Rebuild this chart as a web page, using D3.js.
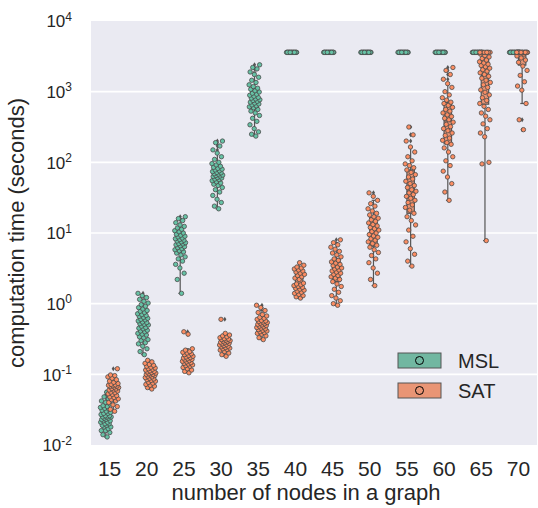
<!DOCTYPE html>
<html>
<head>
<meta charset="utf-8">
<script src="https://cdn.jsdelivr.net/npm/d3@7"></script>
<style>
  body { margin: 0; background: #fff; }
  text { font-family: "Liberation Sans", Arial, sans-serif; fill: #262626; }
</style>
</head>
<body>
<svg id="chart" width="538" height="508"></svg>
<script>
// categories on the x axis (graph size)
var categories = [15, 20, 25, 30, 35, 40, 45, 50, 55, 60, 65, 70];
var yTickExps = [-2, -1, 0, 1, 2, 3, 4];
var seriesNames = ["MSL", "SAT"];

// computation times in seconds, one list per graph size (3600 = timeout)
var mslTimes = [
  [0.013,0.014,0.015,0.016,0.016,0.017,0.018,0.018,0.019,0.019,0.02,0.02,0.021,0.021,0.022,0.022,0.023,0.023,0.024,0.024,0.025,0.025,0.025,0.026,0.026,0.027,0.028,0.028,0.029,0.03,0.031,0.032,0.033,0.034,0.035,0.036,0.038,0.04,0.042,0.045,0.048,0.052,0.056],
  [0.19,0.21,0.23,0.25,0.27,0.28,0.3,0.31,0.33,0.34,0.36,0.37,0.38,0.4,0.41,0.42,0.44,0.45,0.46,0.48,0.5,0.51,0.52,0.54,0.55,0.57,0.59,0.6,0.62,0.64,0.66,0.68,0.7,0.72,0.75,0.78,0.8,0.84,0.88,0.92,0.97,1.02,1.08,1.15,1.22,1.3,1.4],
  [1.4,2.2,2.7,3.2,3.6,4,4.3,4.6,4.9,5.2,5.4,5.6,5.8,6,6.2,6.4,6.6,6.8,7,7.1,7.3,7.5,7.7,7.9,8.1,8.3,8.5,8.8,9,9.3,9.6,10,10.4,10.8,11.3,11.8,12.4,13,14,15,16,17],
  [22,24,27,30,34,38,41,44,47,49,51,53,55,57,58,60,61,63,64,65,66,68,69,71,72,74,76,78,80,82,85,88,92,96,100,110,120,135,150,170,190,200],
  [235,250,270,300,340,380,420,460,500,530,560,590,610,630,650,670,690,710,730,750,770,790,810,830,860,890,920,950,990,1030,1080,1120,1180,1250,1350,1450,1600,1750,1900,2100,2200,2400],
  [3600,3600,3600,3600,3600,3600,3600,3600,3600,3600,3600,3600,3600,3600,3600,3600,3600,3600,3600,3600],
  [3600,3600,3600,3600,3600,3600,3600,3600,3600,3600,3600,3600,3600,3600,3600,3600,3600,3600,3600,3600],
  [3600,3600,3600,3600,3600,3600,3600,3600,3600,3600,3600,3600,3600,3600,3600,3600,3600,3600,3600,3600],
  [3600,3600,3600,3600,3600,3600,3600,3600,3600,3600,3600,3600,3600,3600,3600,3600,3600,3600,3600,3600],
  [3600,3600,3600,3600,3600,3600,3600,3600,3600,3600,3600,3600,3600,3600,3600,3600,3600,3600,3600,3600],
  [3600,3600,3600,3600,3600,3600,3600,3600,3600,3600,3600,3600,3600,3600,3600,3600,3600,3600,3600,3600],
  [3600,3600,3600,3600,3600,3600,3600,3600,3600,3600,3600,3600,3600,3600,3600,3600,3600,3600,3600,3600]
];

var satTimes = [
  [0.03,0.032,0.035,0.037,0.04,0.042,0.044,0.045,0.047,0.048,0.05,0.052,0.053,0.055,0.056,0.058,0.06,0.06,0.062,0.063,0.065,0.066,0.067,0.068,0.069,0.07,0.071,0.072,0.074,0.077,0.08,0.084,0.088,0.092,0.096,0.098,0.12],
  [0.062,0.065,0.068,0.07,0.072,0.075,0.077,0.08,0.082,0.084,0.086,0.088,0.09,0.092,0.094,0.096,0.098,0.1,0.1,0.102,0.104,0.106,0.108,0.11,0.112,0.115,0.118,0.12,0.123,0.126,0.13,0.134,0.138,0.143,0.15,0.158],
  [0.105,0.11,0.115,0.12,0.125,0.13,0.133,0.136,0.14,0.143,0.146,0.15,0.153,0.156,0.16,0.163,0.166,0.17,0.173,0.176,0.18,0.185,0.19,0.195,0.2,0.205,0.21,0.22,0.23,0.37,0.4],
  [0.18,0.19,0.2,0.21,0.22,0.225,0.23,0.235,0.24,0.245,0.25,0.255,0.26,0.265,0.27,0.275,0.28,0.285,0.29,0.295,0.3,0.305,0.31,0.315,0.32,0.33,0.34,0.35,0.36,0.38,0.6],
  [0.31,0.33,0.35,0.37,0.38,0.39,0.4,0.41,0.42,0.43,0.44,0.45,0.46,0.47,0.48,0.49,0.5,0.51,0.52,0.53,0.54,0.55,0.56,0.57,0.58,0.6,0.62,0.64,0.67,0.7,0.75,0.8,0.88,0.95],
  [1.2,1.25,1.3,1.35,1.4,1.45,1.5,1.55,1.6,1.65,1.7,1.75,1.8,1.85,1.9,1.95,2.2,2.3,2.4,2.5,2.6,2.7,2.8,2.9,3.0,3.1,3.2,3.3,3.5,3.8],
  [0.95,1.0,1.1,1.2,1.3,1.45,1.6,1.75,1.9,2.05,2.2,2.3,2.4,2.5,2.6,2.7,2.8,2.9,3.0,3.1,3.2,3.3,3.45,3.6,3.75,3.9,4.1,4.3,4.6,4.9,5.2,5.5,5.9,6.3,6.8,7.3,8.0],
  [1.8,2.2,2.7,3.2,3.8,4.3,4.8,5.3,5.8,6.3,6.7,7.1,7.5,7.9,8.3,8.7,9.1,9.5,10,10.5,11,11.5,12,12.6,13.2,13.9,14.6,15.4,16.2,17,18,19,20.5,22,24,26,29,33,37],
  [3.4,4,5,6,7.5,9,11,13,15,17,19,21,23,25,27,29,31,33,35,37,39,41,44,47,50,54,58,62,67,72,78,84,90,95,105,120,140,165,200,245,316],
  [29,38,50,62,75,90,105,120,140,160,180,190,205,220,240,260,280,300,320,345,370,400,420,445,470,500,530,560,600,640,680,710,760,820,900,1000,1150,1300,1500,1750,2000,2200],
  [7.8,95,100,230,260,300,350,400,450,500,560,620,680,750,820,900,980,1060,1150,1250,1350,1450,1550,1650,1750,1850,1950,2050,2150,2250,2350,2450,2550,2650,2800,2950,3100,3250,3400,3600,3600,3600,3600,3600,3600,3600,3600,3600],
  [290,400,680,1050,1200,1380,1700,2000,2300,2600,2800,3000,3200,3400,3600,3600,3600,3600,3600,3600,3600,3600,3600,3600,3600,3600,3600,3600,3600,3600,3600,3600,3600,3600]
];

var pointColors = ["#66c2a5", "#fc8d62"];
var boxColors = ["#71b7a1", "#e99575"];

var svg = d3.select("#chart");
var plotLeft = 91, plotRight = 537, plotTop = 21, plotBottom = 445;

var x = d3.scaleBand().domain(categories).range([plotLeft, plotRight]);
var y = d3.scaleLog().domain([0.01, 10000]).range([plotBottom, plotTop]);
var bw = x.bandwidth();

// background + grid
svg.append("rect")
  .attr("x", plotLeft).attr("y", plotTop)
  .attr("width", plotRight - plotLeft).attr("height", plotBottom - plotTop)
  .attr("fill", "#eaeaf2");

svg.append("g").selectAll("line")
  .data(yTickExps.slice(1, -1))
  .join("line")
  .attr("x1", plotLeft).attr("x2", plotRight)
  .attr("y1", function(d) { return y(Math.pow(10, d)); })
  .attr("y2", function(d) { return y(Math.pow(10, d)); })
  .attr("stroke", "#fff").attr("stroke-width", 1.6);

// y axis, labels as 10^n
var yAxis = svg.append("g")
  .attr("transform", "translate(" + plotLeft + ",0)")
  .call(d3.axisLeft(y).tickValues(yTickExps.map(function(e) { return Math.pow(10, e); }))
    .tickSize(0).tickPadding(19).tickFormat(""));
yAxis.select(".domain").remove();
yAxis.selectAll(".tick text").each(function(d, i) {
  var t = d3.select(this).attr("dy", "0.34em").style("font-size", "17px");
  t.append("tspan").text("10");
  t.append("tspan").text(yTickExps[i]).attr("dy", "-0.55em").style("font-size", "12px");
});

// x axis
var xAxis = svg.append("g")
  .attr("transform", "translate(0," + plotBottom + ")")
  .call(d3.axisBottom(x).tickSize(0).tickPadding(16));
xAxis.select(".domain").remove();
xAxis.selectAll(".tick text").style("font-size", "21px");

// axis titles
svg.append("text")
  .attr("x", (plotLeft + plotRight) / 2 - 8).attr("y", 500)
  .attr("text-anchor", "middle").style("font-size", "22px")
  .text("number of nodes in a graph");
svg.append("text")
  .attr("transform", "translate(24," + (plotTop + plotBottom) / 2 + ") rotate(-90)")
  .attr("text-anchor", "middle").style("font-size", "22px")
  .text("computation time (seconds)");

// deterministic spread for strip points
function jitter(i) { return ((i + 1) * 0.6180339887) % 1 - 0.5; }

var groups = [mslTimes, satTimes];
var stats = [];
categories.forEach(function(cat, ci) {
  groups.forEach(function(g, s) {
    var v = g[ci].slice().sort(d3.ascending);
    var q1 = d3.quantile(v, 0.25), med = d3.quantile(v, 0.5), q3 = d3.quantile(v, 0.75);
    var iqr = q3 - q1;
    var lo = d3.min(v.filter(function(d) { return d >= q1 - 1.5 * iqr; }));
    var hi = d3.max(v.filter(function(d) { return d <= q3 + 1.5 * iqr; }));
    stats.push({
      cx: x(cat) + bw / 2 + (s === 0 ? -0.1 : 0.1) * bw,
      s: s, vals: g[ci], q1: q1, med: med, q3: q3, lo: lo, hi: hi,
      fliers: v.filter(function(d) { return d < lo || d > hi; })
    });
  });
});

var boxW = bw * 0.2;
var boxes = svg.append("g").selectAll("g").data(stats).join("g");
boxes.append("line")
  .attr("x1", function(d) { return d.cx; }).attr("x2", function(d) { return d.cx; })
  .attr("y1", function(d) { return y(d.lo); }).attr("y2", function(d) { return y(d.hi); })
  .attr("stroke", "#555").attr("stroke-width", 1.2);
boxes.selectAll(".cap")
  .data(function(d) { return [{cx: d.cx, v: d.lo}, {cx: d.cx, v: d.hi}]; })
  .join("line")
  .attr("x1", function(d) { return d.cx - boxW / 4; }).attr("x2", function(d) { return d.cx + boxW / 4; })
  .attr("y1", function(d) { return y(d.v); }).attr("y2", function(d) { return y(d.v); })
  .attr("stroke", "#555").attr("stroke-width", 1.2);
boxes.append("rect")
  .attr("x", function(d) { return d.cx - boxW / 2; })
  .attr("y", function(d) { return y(d.q3); })
  .attr("width", boxW)
  .attr("height", function(d) { return Math.max(0.5, y(d.q1) - y(d.q3)); })
  .attr("fill", function(d) { return boxColors[d.s]; })
  .attr("stroke", "#555").attr("stroke-width", 1.2);
boxes.append("line")
  .attr("x1", function(d) { return d.cx - boxW / 2; }).attr("x2", function(d) { return d.cx + boxW / 2; })
  .attr("y1", function(d) { return y(d.med); }).attr("y2", function(d) { return y(d.med); })
  .attr("stroke", "#555").attr("stroke-width", 1.2);
boxes.selectAll(".flier")
  .data(function(d) { return d.fliers.map(function(f) { return {cx: d.cx, v: f}; }); })
  .join("path")
  .attr("d", function(d) { var cy = y(d.v); return "M" + d.cx + "," + (cy - 2.5) + "L" + (d.cx + 1.6) + "," + cy + "L" + d.cx + "," + (cy + 2.5) + "L" + (d.cx - 1.6) + "," + cy + "Z"; })
  .attr("fill", "#555");

// strip points
var jw = bw * 0.3;
svg.append("g").selectAll("g").data(stats).join("g")
  .selectAll("circle")
  .data(function(d) { return d.vals.map(function(v, i) { return {x: d.cx + jitter(i) * jw, v: v, s: d.s}; }); })
  .join("circle")
  .attr("cx", function(d) { return d.x; })
  .attr("cy", function(d) { return y(d.v); })
  .attr("r", 2.2)
  .attr("fill", function(d) { return pointColors[d.s]; })
  .attr("stroke", "#4a4a4a").attr("stroke-width", 0.8);

// legend
var leg = svg.append("g").selectAll("g").data(seriesNames).join("g")
  .attr("transform", function(d, i) { return "translate(398," + (353 + i * 30) + ")"; });
leg.append("rect")
  .attr("width", 43).attr("height", 15)
  .attr("fill", function(d, i) { return boxColors[i]; })
  .attr("stroke", "#555").attr("stroke-width", 1);
leg.append("circle")
  .attr("cx", 21.5).attr("cy", 7.5).attr("r", 4)
  .attr("fill", function(d, i) { return boxColors[i]; })
  .attr("stroke", "#000").attr("stroke-width", 1);
leg.append("text")
  .attr("x", 60).attr("y", 15)
  .style("font-size", "20px")
  .text(function(d) { return d; });
</script>
</body>
</html>
